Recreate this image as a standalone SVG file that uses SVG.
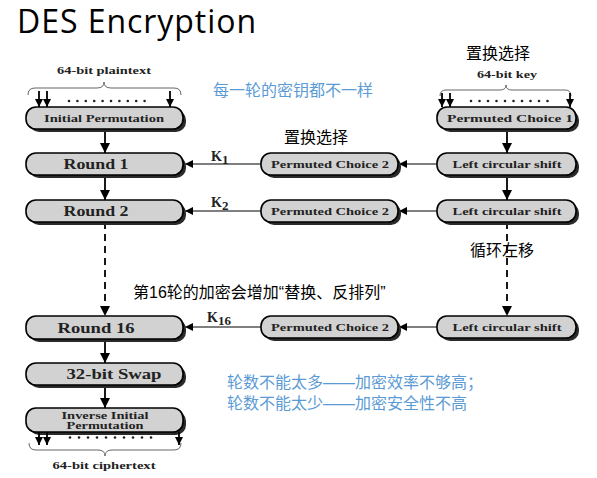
<svg xmlns="http://www.w3.org/2000/svg" width="597" height="478" viewBox="0 0 597 478">
<defs>
<style>
.sh{fill:#2a2a2a}
.bx{fill:#d2d2d2;stroke:#000;stroke-width:1.6}
.lb{font-family:"Liberation Serif",serif;font-weight:bold;fill:#222;text-anchor:middle}
.s9{font-size:10.5px}
.s12{font-size:14.5px}
.ln{stroke:#000;stroke-width:1.8;fill:none}
.hl{stroke:#000;stroke-width:1.2;fill:none}
.br{stroke:#555;stroke-width:0.9;fill:none}
.dt{fill:#222}
.zh{font-family:"Liberation Sans","Noto Sans CJK SC",sans-serif;font-size:16px}
.blue{fill:#5b9bd5}
.kk{font-family:"Liberation Serif",serif;font-weight:bold;font-size:14px;fill:#222}
</style>
<marker id="ah" markerUnits="userSpaceOnUse" markerWidth="12" markerHeight="12" refX="10" refY="5" orient="auto"><path d="M0,0 L10,5 L0,10 z" fill="#000"/></marker>
<marker id="ahs" markerUnits="userSpaceOnUse" markerWidth="10" markerHeight="10" refX="8" refY="4" orient="auto"><path d="M0,0 L8,4 L0,8 z" fill="#000"/></marker>
</defs>
<rect width="597" height="478" fill="#fff"/>
<text x="17" y="33" font-family="Open Sans, sans-serif" font-size="32" fill="#000" textLength="239" lengthAdjust="spacing">DES Encryption</text>

<g id="connectors">
<line class="ln" x1="105" y1="129" x2="105" y2="153" marker-end="url(#ah)"/>
<line class="ln" x1="105" y1="175" x2="105" y2="200" marker-end="url(#ah)"/>
<line class="ln" x1="105" y1="222" x2="105" y2="316" stroke-dasharray="7,5" marker-end="url(#ah)"/>
<line class="ln" x1="105" y1="339" x2="105" y2="363" marker-end="url(#ah)"/>
<line class="ln" x1="105" y1="385" x2="105" y2="408" marker-end="url(#ah)"/>
<line class="ln" x1="507" y1="129" x2="507" y2="153" marker-end="url(#ah)"/>
<line class="ln" x1="507" y1="175" x2="507" y2="200" marker-end="url(#ah)"/>
<line class="ln" x1="507" y1="222" x2="507" y2="316" stroke-dasharray="7,5" marker-end="url(#ah)"/>
<line class="hl" x1="437" y1="164" x2="399" y2="164" marker-end="url(#ahs)"/>
<line class="hl" x1="437" y1="211" x2="399" y2="211" marker-end="url(#ahs)"/>
<line class="hl" x1="437" y1="327" x2="399" y2="327" marker-end="url(#ahs)"/>
<line class="hl" x1="261" y1="164" x2="185" y2="164" marker-end="url(#ahs)"/>
<line class="hl" x1="261" y1="211" x2="185" y2="211" marker-end="url(#ahs)"/>
<line class="hl" x1="261" y1="327" x2="185" y2="327" marker-end="url(#ahs)"/>
<text class="kk" x="211" y="161">K<tspan font-size="13" dy="3">1</tspan></text>
<text class="kk" x="211" y="207">K<tspan font-size="13" dy="3">2</tspan></text>
<text class="kk" x="207" y="322">K<tspan font-size="13" dy="3">16</tspan></text>
</g>

<g id="plaintext">
<text class="lb" x="104" y="74" font-size="9.5" textLength="94" lengthAdjust="spacingAndGlyphs">64-bit plaintext</text>
<path class="br" d="M28,95 Q28,88 35,88 L97,88 Q104,88 104,82 Q104,88 111,88 L174,88 Q181,88 181,95"/>
<line class="ln" x1="39" y1="91" x2="39" y2="107" stroke-width="1.4" marker-end="url(#ahs)"/>
<line class="ln" x1="47" y1="91" x2="47" y2="107" stroke-width="1.4" marker-end="url(#ahs)"/>
<line class="ln" x1="170" y1="91" x2="170" y2="107" stroke-width="1.4" marker-end="url(#ahs)"/>
<g class="dt"><circle cx="69" cy="101" r="1.3"/><circle cx="77.4" cy="101" r="1.3"/><circle cx="85.8" cy="101" r="1.3"/><circle cx="94.2" cy="101" r="1.3"/><circle cx="102.6" cy="101" r="1.3"/><circle cx="111" cy="101" r="1.3"/><circle cx="119.4" cy="101" r="1.3"/><circle cx="127.8" cy="101" r="1.3"/><circle cx="136.2" cy="101" r="1.3"/><circle cx="144.6" cy="101" r="1.3"/></g>
</g>

<g id="key">
<text class="lb" x="507" y="78" font-size="9.5" textLength="60" lengthAdjust="spacingAndGlyphs">64-bit key</text>
<path class="br" d="M440,96 Q440,90 446,90 L500,90 Q506,90 506,85 Q506,90 512,90 L565,90 Q571,90 571,96"/>
<line class="ln" x1="442" y1="93" x2="442" y2="107" stroke-width="1.4" marker-end="url(#ahs)"/>
<line class="ln" x1="450" y1="93" x2="450" y2="107" stroke-width="1.4" marker-end="url(#ahs)"/>
<line class="ln" x1="570" y1="93" x2="570" y2="107" stroke-width="1.4" marker-end="url(#ahs)"/>
<g class="dt"><circle cx="471" cy="101" r="1.3"/><circle cx="479.5" cy="101" r="1.3"/><circle cx="488" cy="101" r="1.3"/><circle cx="496.5" cy="101" r="1.3"/><circle cx="505" cy="101" r="1.3"/><circle cx="513.5" cy="101" r="1.3"/><circle cx="522" cy="101" r="1.3"/><circle cx="530.5" cy="101" r="1.3"/><circle cx="539" cy="101" r="1.3"/><circle cx="547.5" cy="101" r="1.3"/></g>
</g>

<g id="ip"><rect class="sh" x="29" y="110" width="157" height="22" rx="10"/><rect class="bx" x="26" y="107" width="157" height="22" rx="10"/><text class="lb s9" x="104" y="122" textLength="120" lengthAdjust="spacingAndGlyphs">Initial Permutation</text></g>
<g id="round1"><rect class="sh" x="29" y="156" width="157" height="22" rx="10"/><rect class="bx" x="26" y="153" width="157" height="22" rx="10"/><text class="lb s12" x="96" y="169" textLength="65" lengthAdjust="spacingAndGlyphs">Round 1</text></g>
<g id="round2"><rect class="sh" x="29" y="203" width="157" height="22" rx="10"/><rect class="bx" x="26" y="200" width="157" height="22" rx="10"/><text class="lb s12" x="96" y="216" textLength="65" lengthAdjust="spacingAndGlyphs">Round 2</text></g>
<g id="round16"><rect class="sh" x="29" y="319" width="157" height="23" rx="10"/><rect class="bx" x="26" y="316" width="157" height="23" rx="10"/><text class="lb s12" x="96" y="332.5" textLength="77" lengthAdjust="spacingAndGlyphs">Round 16</text></g>
<g id="swap"><rect class="sh" x="29" y="366" width="157" height="22" rx="10"/><rect class="bx" x="26" y="363" width="157" height="22" rx="10"/><text class="lb s12" x="114" y="379" textLength="95" lengthAdjust="spacingAndGlyphs">32-bit Swap</text></g>
<g id="iip"><rect class="sh" x="29" y="411" width="157" height="24" rx="10"/><rect class="bx" x="26" y="408" width="157" height="24" rx="10"/><text class="lb s9" x="105" y="418.5" textLength="87" lengthAdjust="spacingAndGlyphs">Inverse Initial</text><text class="lb s9" x="105" y="429" textLength="77" lengthAdjust="spacingAndGlyphs">Permutation</text></g>

<g id="ciphertext">
<line class="ln" x1="39" y1="432" x2="39" y2="445" stroke-width="1.4" marker-end="url(#ahs)"/>
<line class="ln" x1="47" y1="432" x2="47" y2="445" stroke-width="1.4" marker-end="url(#ahs)"/>
<line class="ln" x1="179" y1="432" x2="179" y2="445" stroke-width="1.4" marker-end="url(#ahs)"/>
<g class="dt"><circle cx="70" cy="437.5" r="1.3"/><circle cx="79" cy="437.5" r="1.3"/><circle cx="88" cy="437.5" r="1.3"/><circle cx="97" cy="437.5" r="1.3"/><circle cx="106" cy="437.5" r="1.3"/><circle cx="115" cy="437.5" r="1.3"/><circle cx="124" cy="437.5" r="1.3"/><circle cx="133" cy="437.5" r="1.3"/><circle cx="142" cy="437.5" r="1.3"/><circle cx="151" cy="437.5" r="1.3"/></g>
<path class="br" d="M29,443 Q29,450 36,450 L98,450 Q105,450 105,456 Q105,450 112,450 L174,450 Q181,450 181,443"/>
<text class="lb" x="104" y="469" font-size="10" textLength="103" lengthAdjust="spacingAndGlyphs">64-bit ciphertext</text>
</g>

<g id="pc1"><rect class="sh" x="440" y="110" width="139" height="22" rx="10"/><rect class="bx" x="437" y="107" width="139" height="22" rx="10"/><text class="lb s9" x="510" y="122" textLength="126" lengthAdjust="spacingAndGlyphs">Permuted Choice 1</text></g>
<g id="lcs1"><rect class="sh" x="440" y="156" width="139" height="22" rx="10"/><rect class="bx" x="437" y="153" width="139" height="22" rx="10"/><text class="lb s9" x="507" y="168" textLength="109" lengthAdjust="spacingAndGlyphs">Left circular shift</text></g>
<g id="lcs2"><rect class="sh" x="440" y="203" width="139" height="22" rx="10"/><rect class="bx" x="437" y="200" width="139" height="22" rx="10"/><text class="lb s9" x="507" y="215" textLength="109" lengthAdjust="spacingAndGlyphs">Left circular shift</text></g>
<g id="lcs16"><rect class="sh" x="440" y="319" width="139" height="22" rx="10"/><rect class="bx" x="437" y="316" width="139" height="22" rx="10"/><text class="lb s9" x="507" y="331" textLength="109" lengthAdjust="spacingAndGlyphs">Left circular shift</text></g>
<g id="pc2a"><rect class="sh" x="264" y="156" width="137" height="22" rx="10"/><rect class="bx" x="261" y="153" width="137" height="22" rx="10"/><text class="lb s9" x="330" y="168" textLength="118" lengthAdjust="spacingAndGlyphs">Permuted Choice 2</text></g>
<g id="pc2b"><rect class="sh" x="264" y="203" width="137" height="22" rx="10"/><rect class="bx" x="261" y="200" width="137" height="22" rx="10"/><text class="lb s9" x="330" y="215" textLength="118" lengthAdjust="spacingAndGlyphs">Permuted Choice 2</text></g>
<g id="pc2c"><rect class="sh" x="264" y="319" width="137" height="22" rx="10"/><rect class="bx" x="261" y="316" width="137" height="22" rx="10"/><text class="lb s9" x="330" y="331" textLength="118" lengthAdjust="spacingAndGlyphs">Permuted Choice 2</text></g>

<g id="notes">
<text class="zh blue" x="213" y="96">每一轮的密钥都不一样</text>
<text class="zh" x="284" y="143">置换选择</text>
<text class="zh" x="466" y="59">置换选择</text>
<text class="zh" x="470" y="256">循环左移</text>
<text class="zh" x="133" y="298">第16轮的加密会增加“替换、反排列”</text>
<text class="zh blue" x="227" y="388" font-size="15.5">轮数不能太多——加密效率不够高；</text>
<text class="zh blue" x="227" y="409" font-size="15.5">轮数不能太少——加密安全性不高</text>
</g>
</svg>
